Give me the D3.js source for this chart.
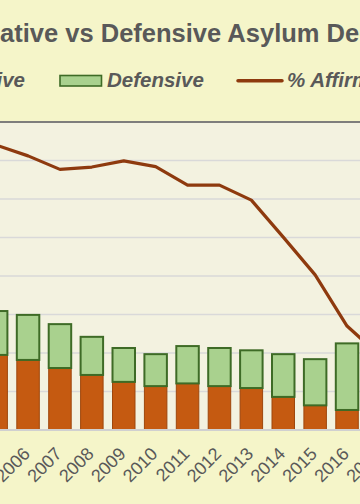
<!DOCTYPE html>
<html>
<head>
<meta charset="utf-8">
<script src="https://cdn.jsdelivr.net/npm/d3@7/dist/d3.min.js"></script>
<style>
  html, body { margin: 0; padding: 0; background: #F5F5C9; overflow: hidden; }
  svg { display: block; }
</style>
</head>
<body>
<svg id="chart" width="360" height="504"></svg>
<script>
// ---- Data ----
const years = ["2005","2006","2007","2008","2009","2010","2011","2012","2013","2014","2015","2016","2017"];
// thousands of decisions
const affirmative = [19.5, 18.2, 16.1, 14.3, 12.5, 11.4, 12.1, 11.4, 10.9, 8.6, 6.4, 5.2, null];
const defensive   = [11.4, 11.7, 11.4, 9.9, 8.8, 8.3, 9.7, 9.9, 9.8, 11.1, 12.0, 17.3, null];
// percent affirmative
const pctAffirmative = [74.0, 71.2, 67.7, 68.3, 69.9, 68.4, 63.6, 63.6, 59.7, 50.1, 40.3, 27.0, 19.5];
const countTicks = [0, 10, 20, 30, 40, 50, 60, 70, 80];
const titleText = "Affirmative vs Defensive Asylum Decisions";
const legendLabels = ["Affirmative", "Defensive", "% Affirmative"];

// ---- Layout ----
const svg = d3.select("#chart");
const W = 360, H = 504;
const plotTop = 122, plotBottom = 430;
const rangeLeft = -24.5, rangeRight = 399.6;

const colOrange = "#C55A11", colOrangeEdge = "#9E470D";
const colGreen = "#A9D18E", colGreenEdge = "#3E6B26";
const colLine = "#8E3A0E";
const textGray = "#595959";
const font = "Liberation Sans, Arial, sans-serif";

const x = d3.scaleBand().domain(years).range([rangeLeft, rangeRight]).padding(0.295);
const y = d3.scaleLinear().domain([0, 80]).range([plotBottom, plotTop]);
const yPct = d3.scaleLinear().domain([0, 80]).range([plotBottom, plotTop]);

// plot area background
svg.append("rect")
  .attr("x", -10).attr("y", plotTop)
  .attr("width", W + 20).attr("height", plotBottom - plotTop)
  .attr("fill", "#F3F2E0");

// gridlines
svg.append("g")
  .selectAll("line")
  .data(countTicks.slice(1))
  .join("line")
  .attr("x1", -10).attr("x2", W + 10)
  .attr("y1", d => y(d)).attr("y2", d => y(d))
  .attr("stroke", "#D9D9D9").attr("stroke-width", 1.5);

// top border of plot area
svg.append("line")
  .attr("x1", -10).attr("x2", W + 10)
  .attr("y1", plotTop).attr("y2", plotTop)
  .attr("stroke", "#5E5E5E").attr("stroke-width", 1.6);

// bars
const rows = years.map((yr, i) => ({ yr, a: affirmative[i], d: defensive[i] })).filter(r => r.a != null);
const bars = svg.append("g");
bars.selectAll("rect.aff")
  .data(rows).join("rect").attr("class", "aff")
  .attr("x", r => x(r.yr)).attr("width", x.bandwidth())
  .attr("y", r => y(r.a)).attr("height", r => y(0) - y(r.a))
  .attr("fill", colOrange).attr("stroke", colOrangeEdge).attr("stroke-width", 1);
bars.selectAll("rect.def")
  .data(rows).join("rect").attr("class", "def")
  .attr("x", r => x(r.yr)).attr("width", x.bandwidth())
  .attr("y", r => y(r.a + r.d)).attr("height", r => y(r.a) - y(r.a + r.d))
  .attr("fill", colGreen).attr("stroke", colGreenEdge).attr("stroke-width", 2);

// x axis line
svg.append("line")
  .attr("x1", -10).attr("x2", W + 10)
  .attr("y1", plotBottom).attr("y2", plotBottom)
  .attr("stroke", "#D0D0D0").attr("stroke-width", 2);

// x axis labels
const xAxis = d3.axisBottom(x).tickSize(0).tickPadding(0);
const gx = svg.append("g").attr("transform", `translate(0,${plotBottom})`).call(xAxis);
gx.select(".domain").remove();
gx.selectAll("text")
  .attr("font-family", font)
  .attr("font-size", 18)
  .attr("fill", textGray)
  .attr("text-anchor", "end")
  .attr("dy", null)
  .attr("y", null)
  .attr("transform", "translate(3,25) rotate(-45)");

// line
const line = d3.line()
  .x((d, i) => x(years[i]) + x.bandwidth() / 2)
  .y(d => yPct(d));
svg.append("path")
  .datum(pctAffirmative)
  .attr("d", line)
  .attr("fill", "none")
  .attr("stroke", colLine)
  .attr("stroke-width", 3.2)
  .attr("stroke-linejoin", "round");

// title
svg.append("text")
  .attr("x", -75).attr("y", 41.5)
  .attr("text-anchor", "start")
  .attr("font-family", font)
  .attr("font-weight", "bold")
  .attr("font-size", 25.5)
  .attr("fill", textGray)
  .text(titleText);

// legend
const legY = 87;
const legend = svg.append("g")
  .attr("font-family", font)
  .attr("font-weight", "bold")
  .attr("font-style", "italic")
  .attr("font-size", 20.5)
  .attr("fill", textGray);

// Affirmative entry (text ends at ~x=25)
legend.append("text").attr("x", 25).attr("y", legY).attr("text-anchor", "end").text(legendLabels[0]);
legend.append("rect").attr("x", -133).attr("y", 75).attr("width", 42).attr("height", 11)
  .attr("fill", colOrange).attr("stroke", colOrangeEdge).attr("stroke-width", 1);
// Defensive
legend.append("rect").attr("x", 60).attr("y", 75.5).attr("width", 41.5).attr("height", 10.5)
  .attr("fill", colGreen).attr("stroke", colGreenEdge).attr("stroke-width", 1.6);
legend.append("text").attr("x", 107).attr("y", legY).text(legendLabels[1]);
// % Affirmative
legend.append("line").attr("x1", 238).attr("x2", 282).attr("y1", 80.7).attr("y2", 80.7)
  .attr("stroke", colLine).attr("stroke-width", 3.5).attr("stroke-linecap", "round");
legend.append("text").attr("x", 287).attr("y", legY).text(legendLabels[2]);
</script>
</body>
</html>
